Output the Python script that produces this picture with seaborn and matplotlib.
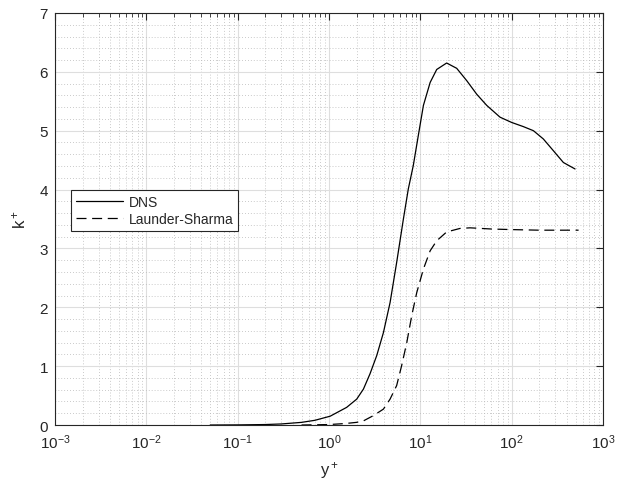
import numpy as np
import pandas as pd
import matplotlib
matplotlib.use("Agg")
import matplotlib.pyplot as plt
import seaborn as sns
from matplotlib.ticker import LogLocator, MultipleLocator, NullFormatter

# DNS k+ profile
dns_y = [0.05, 0.1, 0.2, 0.3, 0.5, 0.7, 1.03, 1.56, 2.01, 2.38, 2.81, 3.33, 3.94, 4.66,
         5.50, 6.52, 7.38, 8.37, 9.50, 10.8, 12.8, 15.1, 19.4, 25.0, 32.2, 41.4, 53.3,
         74.5, 100, 134, 173, 222, 286, 368, 494]
dns_k = [0.0, 0.002, 0.008, 0.018, 0.045, 0.08, 0.15, 0.30, 0.44, 0.61, 0.87, 1.18, 1.57, 2.08,
         2.76, 3.50, 4.01, 4.41, 4.92, 5.43, 5.82, 6.04, 6.15, 6.06, 5.85, 5.62, 5.43,
         5.23, 5.14, 5.07, 5.00, 4.86, 4.66, 4.46, 4.35]

# Launder-Sharma model
ls_y = [0.5, 1.0, 1.5, 2.0, 2.38, 3.06, 3.94, 4.66, 5.5, 6.24, 7.1, 8.05, 9.13, 10.8,
        12.8, 15.1, 19.4, 27.2, 35, 60, 100, 200, 350, 540]
ls_k = [0.0, 0.008, 0.025, 0.045, 0.07, 0.16, 0.27, 0.44, 0.67, 1.01, 1.40, 1.86, 2.25, 2.65,
        2.96, 3.13, 3.28, 3.34, 3.35, 3.33, 3.32, 3.31, 3.31, 3.31]

sns.set_style("white")
plt.rcParams['font.family'] = ['Liberation Sans', 'DejaVu Sans']
plt.rcParams['mathtext.fontset'] = 'custom'
plt.rcParams['mathtext.rm'] = 'Liberation Sans'
plt.rcParams['mathtext.it'] = 'Liberation Sans'

fig = plt.figure(figsize=(6.26, 4.89), dpi=100)
ax = fig.add_axes([0.0879, 0.1288, 0.8754, 0.8426])

sns.lineplot(x=dns_y, y=dns_k, ax=ax, color='black', lw=0.9, label='DNS')
sns.lineplot(x=ls_y, y=ls_k, ax=ax, color='black', lw=0.9, linestyle=(0, (8, 4.5)),
             label='Launder-Sharma')

ax.set_xscale('log')
ax.set_xlim(1e-3, 1e3)
ax.set_ylim(0, 7)
ax.xaxis.set_major_locator(LogLocator(base=10, numticks=10))
ax.xaxis.set_minor_locator(LogLocator(base=10, subs=np.arange(2, 10), numticks=20))
ax.xaxis.set_minor_formatter(NullFormatter())
ax.yaxis.set_major_locator(MultipleLocator(1))
ax.yaxis.set_minor_locator(MultipleLocator(0.2))

ax.grid(which='major', color='#dedede', lw=0.8, ls='-')
ax.grid(which='minor', color='#b8b8b8', lw=0.6, ls=(0, (1, 2.5)))
ax.set_axisbelow(True)

for s in ax.spines.values():
    s.set_color('#262626')
    s.set_linewidth(0.8)
ax.tick_params(which='both', direction='in', top=True, right=True, colors='#262626',
               labelsize=11, labelcolor='#262626')
ax.tick_params(which='major', length=5, width=0.8, pad=5)
ax.tick_params(which='minor', length=3, width=0.6)
ax.tick_params(axis='y', which='minor', length=0)

ax.set_xlabel('y$^+$', fontsize=12, color='#262626', labelpad=6)
ax.set_ylabel('k$^+$', fontsize=12, color='#262626', labelpad=8)

leg = ax.legend(loc='lower left', bbox_to_anchor=(0.029, 0.471), fontsize=10,
                handlelength=3.4, fancybox=False, framealpha=1, borderpad=0.35,
                labelspacing=0.2, handletextpad=0.4, borderaxespad=0)
leg.get_frame().set_edgecolor('#262626')
leg.get_frame().set_linewidth(0.8)

fig.savefig('out.png', dpi=100)
